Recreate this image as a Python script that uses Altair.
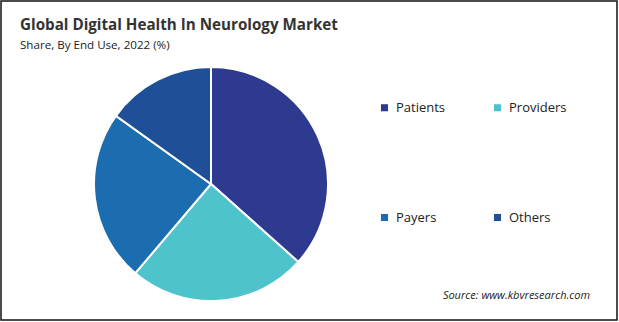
import altair as alt
import pandas as pd

categories = ["Patients", "Providers", "Payers", "Others"]
shares = [36.6, 24.6, 23.7, 15.1]
colors = ["#2e3a8f", "#4ec3cc", "#1b6db0", "#1f4f96"]
legend_order = ["Patients", "Payers", "Providers", "Others"]

df = pd.DataFrame({"End Use": categories, "Share": shares, "order": list(range(len(categories)))})

FONT = "Open Sans"

pie = alt.Chart(df).mark_arc(radius=117, stroke="white", strokeWidth=2).encode(
    theta=alt.Theta("Share:Q", stack=True),
    order=alt.Order("order:Q"),
    color=alt.Color(
        "End Use:N",
        scale=alt.Scale(domain=categories, range=colors),
        legend=alt.Legend(
            title=None,
            values=legend_order,
            orient="none",
            legendX=377,
            legendY=100,
            columns=2,
            columnPadding=45,
            rowPadding=96,
            symbolType="square",
            symbolSize=50,
            symbolStrokeWidth=0,
            labelFont=FONT,
            labelFontSize=13,
            labelColor="#222222",
            labelOffset=5,
            padding=0,
        ),
    ),
    x=alt.value(210),
    y=alt.value(183),
)

title_df = pd.DataFrame({"t": ["Global Digital Health In Neurology Market"]})
sub_df = pd.DataFrame({"t": ["Share, By End Use, 2022 (%)"]})
src_df = pd.DataFrame({"t": ["Source: www.kbvresearch.com"]})

title = alt.Chart(title_df).mark_text(
    align="left", baseline="alphabetic", font=FONT, fontSize=15.2, fontWeight="bold", color="#333333"
).encode(text="t:N", x=alt.value(19), y=alt.value(29))

subtitle = alt.Chart(sub_df).mark_text(
    align="left", baseline="alphabetic", font=FONT, fontSize=11.6, color="#222222"
).encode(text="t:N", x=alt.value(19), y=alt.value(47.5))

source = alt.Chart(src_df).mark_text(
    align="right", baseline="alphabetic", font=FONT, fontSize=11, fontStyle="italic", color="#222222"
).encode(text="t:N", x=alt.value(589), y=alt.value(298))

chart = alt.layer(pie, title, subtitle, source).properties(
    width=616,
    height=319,
    padding={"left": 1, "top": 1, "right": 2, "bottom": 2},
    autosize=alt.AutoSizeParams(type="none"),
    background="white",
).configure_view(stroke="#111111", strokeWidth=1.5)

chart.save("out.html", embed_options={"renderer": "svg", "actions": False})
